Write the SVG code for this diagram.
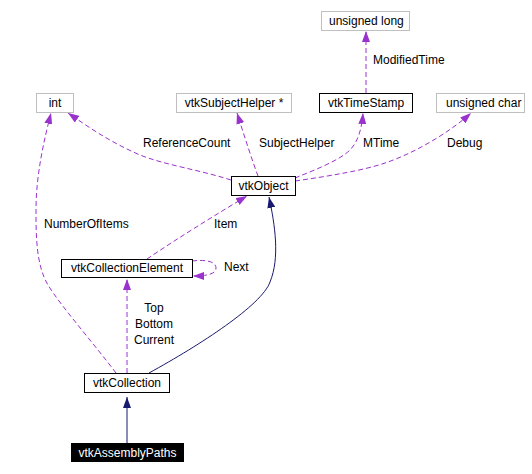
<svg xmlns="http://www.w3.org/2000/svg" width="532" height="474" viewBox="0 0 532 474">
<style>
text{font-family:"Liberation Sans",Arial,sans-serif;font-size:12px;fill:#000}
.cls rect{fill:#fff;stroke:#000;stroke-width:1}
.ext rect{fill:#fff;stroke:#bfbfbf;stroke-width:1}
.nt{text-anchor:middle}
.dash{fill:none;stroke:#9a32cd;stroke-width:1;stroke-dasharray:5,3}
.solid{fill:none;stroke:#191970;stroke-width:1}
</style>
<defs>
<marker id="ap" markerWidth="12" markerHeight="8" refX="11" refY="4" orient="auto" markerUnits="userSpaceOnUse"><path d="M0,0 L11,4 L0,8 Z" fill="#9a32cd"/></marker>
<marker id="an" markerWidth="12" markerHeight="8" refX="11" refY="4" orient="auto" markerUnits="userSpaceOnUse"><path d="M0,0 L11,4 L0,8 Z" fill="#191970"/></marker>
</defs>
<rect width="532" height="474" fill="#fff"/>
<g id="connectors">
<path class="solid" d="M127,443 L127,397" marker-end="url(#an)"/>
<path class="solid" d="M149,373 C200,345 262,305 270,282 C280,258 275,225 269,197" marker-end="url(#an)"/>
<path class="dash" d="M116,373 C95,345 60,305 48,285 C36,265 36,235 36,210 C36,175 44,140 51,113" marker-end="url(#ap)"/>
<path class="dash" d="M127,373 L127,279" marker-end="url(#ap)"/>
<path class="dash" d="M192,261 C210,259 216,263 216,268 C216,273 210,276 193,276" marker-end="url(#ap)"/>
<path class="dash" d="M147,259 C175,240 215,215 247,196" marker-end="url(#ap)"/>
<path class="dash" d="M231,180 C200,170 165,165 140,155 C110,142 90,128 68,113" marker-end="url(#ap)"/>
<path class="dash" d="M258,176 C252,160 244,135 237,113" marker-end="url(#ap)"/>
<path class="dash" d="M295,178 C315,170 340,160 350,150 C358,142 362,128 363,113" marker-end="url(#ap)"/>
<path class="dash" d="M295,181 C330,176 365,170 385,163 C415,153 450,132 471,113" marker-end="url(#ap)"/>
<path class="dash" d="M366,93 L366,31" marker-end="url(#ap)"/>
<text x="44" y="228">NumberOfItems</text>
<text x="214" y="228">Item</text>
<text x="224" y="271">Next</text>
<text x="154" y="312" class="nt">Top</text>
<text x="154" y="328" class="nt">Bottom</text>
<text x="154" y="344" class="nt">Current</text>
<text x="143" y="147">ReferenceCount</text>
<text x="259" y="147">SubjectHelper</text>
<text x="363" y="147">MTime</text>
<text x="447" y="147">Debug</text>
<text x="373" y="64">ModifiedTime</text>
</g>
<g id="int" class="ext"><rect x="36.5" y="93.5" width="37" height="19"/><text x="55" y="107" class="nt">int</text></g>
<g id="vtkSubjectHelper" class="ext"><rect x="176.5" y="93.5" width="115" height="19"/><text x="234" y="107" class="nt">vtkSubjectHelper *</text></g>
<g id="unsignedLong" class="ext"><rect x="321.5" y="11.5" width="88" height="19"/><text x="329" y="25">unsigned long</text></g>
<g id="vtkTimeStamp" class="cls"><rect x="319.5" y="93.5" width="93" height="19"/><text x="366" y="107" class="nt">vtkTimeStamp</text></g>
<g id="unsignedChar" class="ext"><rect x="436.5" y="93.5" width="88" height="19"/><text x="446" y="107">unsigned char</text></g>
<g id="vtkObject" class="cls"><rect x="231.5" y="176.5" width="64" height="19"/><text x="263.5" y="190" class="nt">vtkObject</text></g>
<g id="vtkCollectionElement" class="cls"><rect x="61.5" y="259.5" width="131" height="18"/><text x="127" y="272" class="nt">vtkCollectionElement</text></g>
<g id="vtkCollection" class="cls"><rect x="84.5" y="373.5" width="85" height="19"/><text x="127" y="387" class="nt">vtkCollection</text></g>
<g id="vtkAssemblyPaths"><rect x="71" y="443" width="113" height="19" fill="#000"/><text x="127.5" y="457" class="nt" style="fill:#fff">vtkAssemblyPaths</text></g>
</svg>
